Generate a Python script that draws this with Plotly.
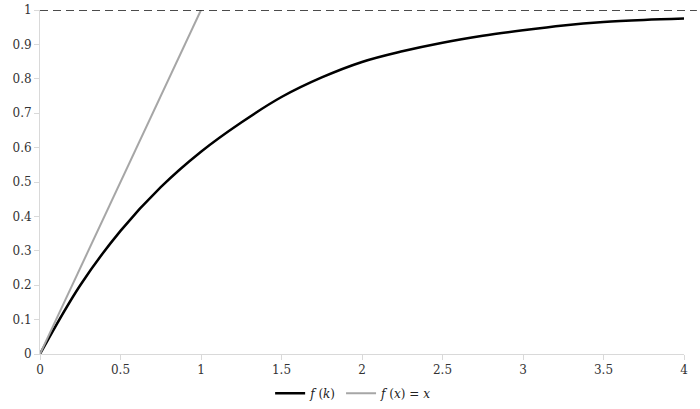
import plotly.graph_objects as go

k_vals = [0, 0.25, 0.5, 0.75, 1.0, 1.25, 1.5, 1.75, 2.0, 2.25, 2.5, 2.75, 3.0, 3.25, 3.5, 3.75, 4.0]
fk_vals = [0, 0.200, 0.358, 0.485, 0.588, 0.673, 0.747, 0.804, 0.849, 0.880, 0.905, 0.925, 0.941, 0.955, 0.965, 0.971, 0.975]

x_line = [0, 1]
y_line = [0, 1]

asymptote = 1.0

x_ticks = [0, 0.5, 1, 1.5, 2, 2.5, 3, 3.5, 4]
x_ticklabels = ["0", "0.5", "1", "1.5", "2", "2.5", "3", "3.5", "4"]
y_ticks = [0, 0.1, 0.2, 0.3, 0.4, 0.5, 0.6, 0.7, 0.8, 0.9, 1.0]
y_ticklabels = ["0", "0.1", "0.2", "0.3", "0.4", "0.5", "0.6", "0.7", "0.8", "0.9", "1"]

font_family = "DejaVu Serif"

fig = go.Figure()
fig.add_trace(go.Scatter(
    x=k_vals, y=fk_vals, mode="lines", line=dict(color="#000000", width=2.5, shape="spline", smoothing=1.0),
    name="<i>f</i> (<i>k</i>)"))
fig.add_trace(go.Scatter(
    x=x_line, y=y_line, mode="lines", line=dict(color="#a6a6a6", width=2),
    name="<i>f</i> (<i>x</i>) = <i>x</i>"))

fig.add_shape(type="line", xref="paper", yref="y", x0=0, x1=1.02, y0=asymptote, y1=asymptote,
              line=dict(color="#111111", width=1.3, dash="8px,5px"))

fig.update_layout(
    width=700, height=409,
    margin=dict(l=40, r=16, t=10, b=55, autoexpand=False),
    paper_bgcolor="white", plot_bgcolor="white",
    font=dict(family=font_family, size=12, color="#333333"),
    showlegend=True,
    legend=dict(orientation="h", x=0.487, xanchor="center", y=-0.114, yanchor="middle",
                font=dict(size=12, color="#222222"), tracegroupgap=0),
)
fig.update_xaxes(range=[0, 4], tickvals=x_ticks, ticktext=x_ticklabels, showgrid=False, zeroline=False,
                 showline=True, linecolor="#d9d9d9", linewidth=1, ticks="outside", tickcolor="#d9d9d9",
                 ticklen=5, tickfont=dict(size=12), automargin=False)
fig.update_yaxes(range=[0, 1], tickvals=y_ticks, ticktext=y_ticklabels, showgrid=False, zeroline=False,
                 showline=True, linecolor="#d9d9d9", linewidth=1, ticks="outside", tickcolor="#d9d9d9",
                 ticklen=5, tickfont=dict(size=12), automargin=False)

fig.write_html("out.html", config={"displayModeBar": False},
               post_script="document.body.style.margin='0';")
